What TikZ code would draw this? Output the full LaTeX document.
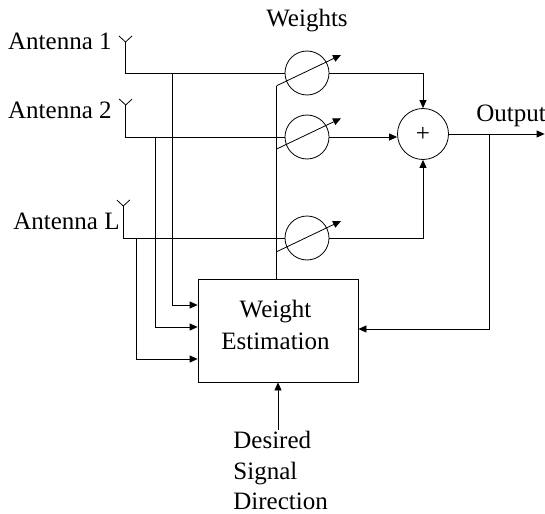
\documentclass[tikz,border=0pt]{standalone}
\usepackage{fontspec}
\setmainfont{Liberation Serif}
\usetikzlibrary{arrows.meta}
\begin{document}
\begin{tikzpicture}[x=1pt,y=-1pt, line width=0.8pt,
  arr/.style={-{Triangle[length=8pt,width=7pt]}},
  lbl/.style={font=\fontsize{25}{30}\selectfont, inner sep=0pt},
  wcirc/.style={draw, circle, minimum size=44pt, inner sep=0pt},
  sumc/.style={draw, circle, minimum size=51pt, inner sep=0pt, font=\fontsize{25}{25}\selectfont},
  estbox/.style={draw, minimum width=160pt, minimum height=103pt, inner sep=0pt}]
\useasboundingbox (0,0) rectangle (545,513);

% weight circles, summer, estimation box
\node[wcirc] (w1) at (307,73) {};
\node[wcirc] (w2) at (307,137) {};
\node[wcirc] (w3) at (307,238) {};
\node[sumc] (sum) at (423,134) {+};
\node[estbox] (est) at (278,330.5) {};

% texts
\node[lbl, anchor=base east] (t1) at (112,50) {Antenna 1};
\node[lbl, anchor=base east] (t2) at (112,119) {Antenna 2};
\node[lbl, anchor=base east] (tL) at (120,229) {Antenna L};
\node[lbl, anchor=base] (tw) at (307,27) {Weights};
\node[lbl, anchor=base west] (tout) at (476,122) {Output};
\node[lbl, anchor=base] (bx1) at (275.5,317) {Weight};
\node[lbl, anchor=base] (bx2) at (275.5,349) {Estimation};
\node[lbl, anchor=base west] (d1) at (233,448) {Desired};
\node[lbl, anchor=base west] (d2) at (233,479) {Signal};
\node[lbl, anchor=base west] (d3) at (233,509) {Direction};

% antennas
\coordinate (a1) at (125.5,42);
\coordinate (a2) at (125.7,105);
\coordinate (aL) at (123.3,206);
\foreach \a in {a1,a2,aL}{
  \draw (\a) -- ++(-6.5,-6);
  \draw (\a) -- ++(6.5,-6);
}
\draw (a1) |- (w1.west);
\draw (a2) |- (w2.west);
\draw (aL) |- (w3.west);

% branches into estimation box
\coordinate (b1) at (172,73);
\coordinate (b2) at (155,137);
\coordinate (bL) at (136,238);
\draw[arr] (b1) |- ([yshift=25.5pt]est.west);
\draw[arr] (b2) |- ([yshift=3.5pt]est.west);
\draw[arr] (bL) |- ([yshift=-28.5pt]est.west);

% weight control line and adjustable arrows
\coordinate (c1) at (276.7,85.7);
\coordinate (c2) at (276.7,149);
\coordinate (c3) at (276.7,251.7);
\draw (c1 |- est.north) -- (c1);
\foreach \c in {c1,c2,c3}{
  \draw[arr] (\c) -- ++(64.3,-30.7);
}

% into summer
\draw[arr] (w1.east) -| (sum.north);
\draw[arr] (w2.east) -- (w2.east -| sum.west);
\draw[arr] (w3.east) -| (sum.south);

% output and feedback
\coordinate (out) at (544.6,134);
\draw[arr] (sum.east) -- (out);
\coordinate (fb) at (489,134);
\draw[arr] (fb) |- ([yshift=1.5pt]est.east);

% desired signal direction
\coordinate (ds) at (278,430);
\draw[arr] (ds) -- (est.south);
\end{tikzpicture}
\end{document}
